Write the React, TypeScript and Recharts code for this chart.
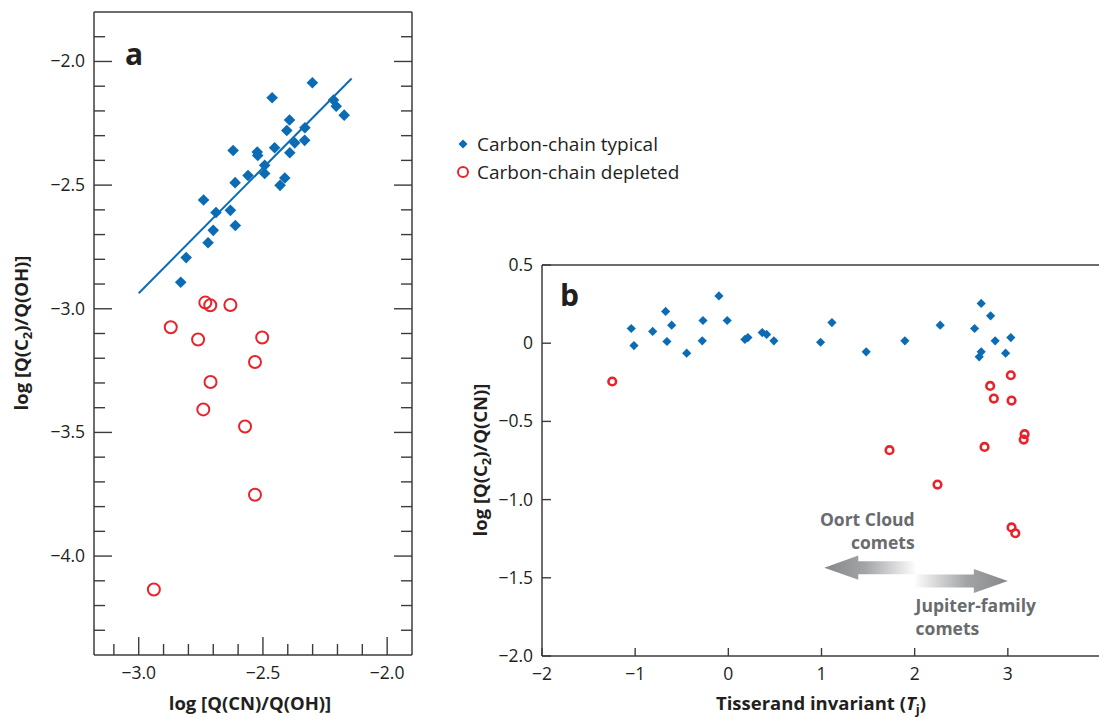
import React from 'react';
import { ScatterChart, Scatter, XAxis, YAxis, ReferenceArea } from 'recharts';

const FONT = '"Open Sans", "Noto Sans", "DejaVu Sans", sans-serif';
const INK = '#231f20';
const AXIS = '#3c3c3c';
const BLUE = '#0b6cb5';
const RED = '#e8232b';
const NOTE = '#6a6b6e';

// ---------- Panel a : log Q(C2)/Q(OH) vs log Q(CN)/Q(OH) ----------
const aTypCN = [-2.301, -2.463, -2.216, -2.205, -2.173, -2.393, -2.404, -2.331, -2.332, -2.372, -2.453, -2.392, -2.523, -2.521, -2.62, -2.493, -2.493, -2.412, -2.431, -2.56, -2.612, -2.739, -2.689, -2.631, -2.611, -2.70, -2.721, -2.809, -2.831];
const aTypC2 = [-2.086, -2.147, -2.156, -2.181, -2.217, -2.237, -2.279, -2.268, -2.319, -2.329, -2.349, -2.369, -2.366, -2.380, -2.360, -2.420, -2.453, -2.471, -2.501, -2.461, -2.490, -2.56, -2.611, -2.602, -2.663, -2.683, -2.733, -2.793, -2.893];
const aDepCN = [-2.732, -2.712, -2.631, -2.871, -2.761, -2.503, -2.532, -2.711, -2.74, -2.572, -2.532, -2.939];
const aDepC2 = [-2.975, -2.986, -2.985, -3.075, -3.124, -3.116, -3.215, -3.296, -3.407, -3.476, -3.752, -4.135];
const aFitCN = [-3.0, -2.143];
const aFitC2 = [-2.937, -2.069];
const aXDomain = [-3.18, -1.9];
const aYDomain = [-4.4, -1.8];
const aXTicks = [-3.1, -3.0, -2.9, -2.8, -2.7, -2.6, -2.5, -2.4, -2.3, -2.2, -2.1, -2.0];
const aYTicks = [-4.3, -4.2, -4.1, -4.0, -3.9, -3.8, -3.7, -3.6, -3.5, -3.4, -3.3, -3.2, -3.1, -3.0, -2.9, -2.8, -2.7, -2.6, -2.5, -2.4, -2.3, -2.2, -2.1, -2.0, -1.9];

// ---------- Panel b : log Q(C2)/Q(CN) vs Tisserand invariant ----------
const bTypTj = [-1.042, -1.013, -0.812, -0.673, -0.608, -0.659, -0.447, -0.272, -0.280, -0.101, -0.012, 0.178, 0.21, 0.364, 0.411, 0.489, 0.99, 1.112, 1.48, 1.895, 2.274, 2.714, 2.815, 2.643, 2.864, 3.032, 2.714, 2.693, 2.976];
const bTypC2CN = [0.094, -0.015, 0.075, 0.203, 0.115, 0.011, -0.064, 0.145, 0.015, 0.302, 0.145, 0.024, 0.036, 0.068, 0.056, 0.015, 0.006, 0.132, -0.055, 0.015, 0.115, 0.254, 0.175, 0.094, 0.015, 0.036, -0.055, -0.087, -0.064];
const bDepTj = [-1.246, 3.032, 2.81, 2.85, 3.04, 3.18, 3.17, 1.73, 2.75, 2.245, 3.04, 3.08];
const bDepC2CN = [-0.245, -0.205, -0.273, -0.354, -0.367, -0.582, -0.616, -0.684, -0.663, -0.904, -1.178, -1.215];
const bXDomain = [-2, 4];
const bYDomain = [-2, 0.5];
const bXTicks = [-2, -1, 0, 1, 2, 3];
const bYTicks = [-2, -1.5, -1, -0.5, 0, 0.5];
// annotation arrows (Tisserand range, y range)
const oortArrow = { x1: 1.03, x2: 2.0, y1: -1.358, y2: -1.512 };
const jfcArrow = { x1: 2.01, x2: 3.0, y1: -1.443, y2: -1.597 };

const seriesNames = ['Carbon-chain typical', 'Carbon-chain depleted'];

const zip = (xs: number[], ys: number[]) => xs.map((x, i) => ({ x, y: ys[i] }));

const minus = (s: string) => s.replace('-', '\u2212');
const fmt1 = (v: number) => minus(v.toFixed(1));
const fmtB = (v: number) => (v === 0 ? '0' : minus(v.toFixed(1)));
const fmtInt = (v: number) => minus(String(v));

const isMajorA = (v: number) => Math.abs(Math.round(v * 2) - v * 2) < 1e-6;

const diamond = (r: number) => (p: any) => (
  <path d={`M${p.cx},${p.cy - r}L${p.cx + r},${p.cy}L${p.cx},${p.cy + r}L${p.cx - r},${p.cy}Z`} fill={BLUE} />
);
const ring = (r: number, sw: number) => (p: any) => (
  <circle cx={p.cx} cy={p.cy} r={r} fill="none" stroke={RED} strokeWidth={sw} />
);

const tickText = { fontFamily: FONT, fontSize: 17.5, fill: INK } as const;

// Panel a ticks (inward, on all four sides)
const aBottomTick = (p: any) => {
  const v = p.payload.value;
  const L = isMajorA(v) ? 18 : 11;
  return (
    <g>
      <line x1={p.x} y1={p.y} x2={p.x} y2={p.y - L} stroke={AXIS} strokeWidth={1.4} />
      {isMajorA(v) && (
        <text x={p.x} y={p.y + 24} textAnchor="middle" {...tickText}>{fmt1(v)}</text>
      )}
    </g>
  );
};
const aTopTick = (p: any) => {
  const L = isMajorA(p.payload.value) ? 18 : 11;
  return <line x1={p.x} y1={p.y} x2={p.x} y2={p.y + L} stroke={AXIS} strokeWidth={1.4} />;
};
const aLeftTick = (p: any) => {
  const v = p.payload.value;
  const L = isMajorA(v) ? 18 : 11;
  return (
    <g>
      <line x1={p.x} y1={p.y} x2={p.x + L} y2={p.y} stroke={AXIS} strokeWidth={1.4} />
      {isMajorA(v) && (
        <text x={p.x - 9} y={p.y + 6} textAnchor="end" {...tickText}>{fmt1(v)}</text>
      )}
    </g>
  );
};
const aRightTick = (p: any) => {
  const L = isMajorA(p.payload.value) ? 18 : 11;
  return <line x1={p.x} y1={p.y} x2={p.x - L} y2={p.y} stroke={AXIS} strokeWidth={1.4} />;
};

// Panel b ticks
const bBottomTick = (p: any) => (
  <g>
    <line x1={p.x} y1={p.y} x2={p.x} y2={p.y - 8} stroke={AXIS} strokeWidth={1.4} />
    <text x={p.x} y={p.y + 24} textAnchor="middle" {...tickText}>{fmtInt(p.payload.value)}</text>
  </g>
);
const bLeftTick = (p: any) => (
  <g>
    <line x1={p.x} y1={p.y} x2={p.x + 9} y2={p.y} stroke={AXIS} strokeWidth={1.4} />
    <text x={p.x - 9} y={p.y + 6} textAnchor="end" {...tickText}>{fmtB(p.payload.value)}</text>
  </g>
);

const noteText = { fontFamily: FONT, fontSize: 17.5, fontWeight: 700, fill: NOTE } as const;

const OortShape = (p: any) => {
  const { x, y, width: w, height: h } = p;
  const cy = y + h / 2;
  const head = 34;
  const sh = 6.5;
  const d = `M${x},${cy} L${x + head},${y} L${x + head},${cy - sh} L${x + w},${cy - sh} L${x + w},${cy + sh} L${x + head},${cy + sh} L${x + head},${y + h} Z`;
  return (
    <g>
      <defs>
        <linearGradient id="gOort" x1="0" y1="0" x2="1" y2="0">
          <stop offset="0" stopColor="#86878a" />
          <stop offset="0.45" stopColor="#a3a4a6" />
          <stop offset="1" stopColor="#fbfbfb" />
        </linearGradient>
      </defs>
      <path d={d} fill="url(#gOort)" />
      <text x={x + w} y={y - 30} textAnchor="end" {...noteText}>Oort Cloud</text>
      <text x={x + w} y={y - 7} textAnchor="end" {...noteText}>comets</text>
    </g>
  );
};

const JfcShape = (p: any) => {
  const { x, y, width: w, height: h } = p;
  const cy = y + h / 2;
  const head = 34;
  const sh = 6.5;
  const tip = x + w;
  const d = `M${tip},${cy} L${tip - head},${y} L${tip - head},${cy - sh} L${x},${cy - sh} L${x},${cy + sh} L${tip - head},${cy + sh} L${tip - head},${y + h} Z`;
  return (
    <g>
      <defs>
        <linearGradient id="gJfc" x1="0" y1="0" x2="1" y2="0">
          <stop offset="0" stopColor="#fbfbfb" />
          <stop offset="0.55" stopColor="#a3a4a6" />
          <stop offset="1" stopColor="#86878a" />
        </linearGradient>
      </defs>
      <path d={d} fill="url(#gJfc)" />
      <text x={x} y={y + h + 19} textAnchor="start" {...noteText}>Jupiter-family</text>
      <text x={x} y={y + h + 42} textAnchor="start" {...noteText}>comets</text>
    </g>
  );
};

const titleStyle = { fontFamily: FONT, fontSize: 18.5, fontWeight: 700, fill: INK } as const;
const axisLineStyle = { stroke: AXIS, strokeWidth: 1.5 };

export default function App() {
  const aTyp = zip(aTypCN, aTypC2);
  const aDep = zip(aDepCN, aDepC2);
  const aFit = zip(aFitCN, aFitC2);
  const bTyp = zip(bTypTj, bTypC2CN);
  const bDep = zip(bDepTj, bDepC2CN);

  return (
    <div style={{ position: 'absolute', left: 0, top: 0, width: 1099, height: 717, overflow: 'hidden', background: '#fff' }}>
      {/* Panel a */}
      <div style={{ position: 'absolute', left: 0, top: 0 }}>
        <ScatterChart width={440} height={717} margin={{ top: 11, left: 93, right: 27, bottom: 61 }}>
          <XAxis type="number" dataKey="x" domain={aXDomain} ticks={aXTicks} interval={0} allowDataOverflow
            height={1} tickSize={0} tickMargin={0} tickLine={false} tick={aBottomTick} axisLine={axisLineStyle} />
          <XAxis xAxisId="top" orientation="top" type="number" domain={aXDomain} ticks={aXTicks} interval={0} allowDataOverflow
            height={1} tickSize={0} tickMargin={0} tickLine={false} tick={aTopTick} axisLine={axisLineStyle} />
          <YAxis type="number" dataKey="y" domain={aYDomain} ticks={aYTicks} interval={0} allowDataOverflow
            width={1} tickSize={0} tickMargin={0} tickLine={false} tick={aLeftTick} axisLine={axisLineStyle} />
          <YAxis yAxisId="right" orientation="right" type="number" domain={aYDomain} ticks={aYTicks} interval={0} allowDataOverflow
            width={1} tickSize={0} tickMargin={0} tickLine={false} tick={aRightTick} axisLine={axisLineStyle} />
          <Scatter name="fit" data={aFit} line={{ stroke: BLUE, strokeWidth: 2 }} shape={() => <g />} isAnimationActive={false} />
          <Scatter name={seriesNames[0]} data={aTyp} shape={diamond(5.8)} isAnimationActive={false} />
          <Scatter name={seriesNames[1]} data={aDep} shape={ring(6, 2)} isAnimationActive={false} />
        </ScatterChart>
      </div>

      {/* Panel b */}
      <div style={{ position: 'absolute', left: 440, top: 0 }}>
        <ScatterChart width={680} height={717} margin={{ top: 264, left: 101, right: 19, bottom: 60 }}>
          <XAxis type="number" dataKey="x" domain={bXDomain} ticks={bXTicks} interval={0} allowDataOverflow
            height={1} tickSize={0} tickMargin={0} tickLine={false} tick={bBottomTick} axisLine={axisLineStyle} />
          <XAxis xAxisId="top" orientation="top" type="number" domain={bXDomain} allowDataOverflow
            height={1} tickLine={false} tick={false} axisLine={axisLineStyle} />
          <YAxis type="number" dataKey="y" domain={bYDomain} ticks={bYTicks} interval={0} allowDataOverflow
            width={1} tickSize={0} tickMargin={0} tickLine={false} tick={bLeftTick} axisLine={axisLineStyle} />
          <ReferenceArea x1={oortArrow.x1} x2={oortArrow.x2} y1={oortArrow.y1} y2={oortArrow.y2} shape={OortShape} />
          <ReferenceArea x1={jfcArrow.x1} x2={jfcArrow.x2} y1={jfcArrow.y1} y2={jfcArrow.y2} shape={JfcShape} />
          <Scatter name={seriesNames[0]} data={bTyp} shape={diamond(4.6)} isAnimationActive={false} />
          <Scatter name={seriesNames[1]} data={bDep} shape={ring(3.8, 2.6)} isAnimationActive={false} />
        </ScatterChart>
      </div>

      {/* Text overlay: panel letters, axis titles, legend */}
      <svg width={1099} height={717} style={{ position: 'absolute', left: 0, top: 0, pointerEvents: 'none' }}>
        <text x={125} y={65} fontFamily={FONT} fontSize={30} fontWeight={700} fill={INK}>a</text>
        <text x={560} y={306} fontFamily={FONT} fontSize={30} fontWeight={700} fill={INK}>b</text>

        <text x={250} y={710} textAnchor="middle" {...titleStyle}>log [Q(CN)/Q(OH)]</text>
        <text transform="translate(28,333) rotate(-90)" textAnchor="middle" {...titleStyle}>
          log [Q(C<tspan dy={4} fontSize={13}>2</tspan><tspan dy={-4}>)/Q(OH)]</tspan>
        </text>

        <text x={821} y={710} textAnchor="middle" {...titleStyle}>
          Tisserand invariant (<tspan fontStyle="italic">T</tspan><tspan dy={4} fontSize={13}>j</tspan><tspan dy={-4}>)</tspan>
        </text>
        <text transform="translate(487,460) rotate(-90)" textAnchor="middle" {...titleStyle}>
          log [Q(C<tspan dy={4} fontSize={13}>2</tspan><tspan dy={-4}>)/Q(CN)]</tspan>
        </text>

        {/* legend */}
        <path d="M463,139.5L467.5,144L463,148.5L458.5,144Z" fill={BLUE} />
        <text x={477} y={151} fontFamily={FONT} fontSize={19} fill={INK}>{seriesNames[0]}</text>
        <circle cx={463} cy={172} r={5} fill="none" stroke={RED} strokeWidth={2} />
        <text x={477} y={179} fontFamily={FONT} fontSize={19} fill={INK}>{seriesNames[1]}</text>
      </svg>
    </div>
  );
}
